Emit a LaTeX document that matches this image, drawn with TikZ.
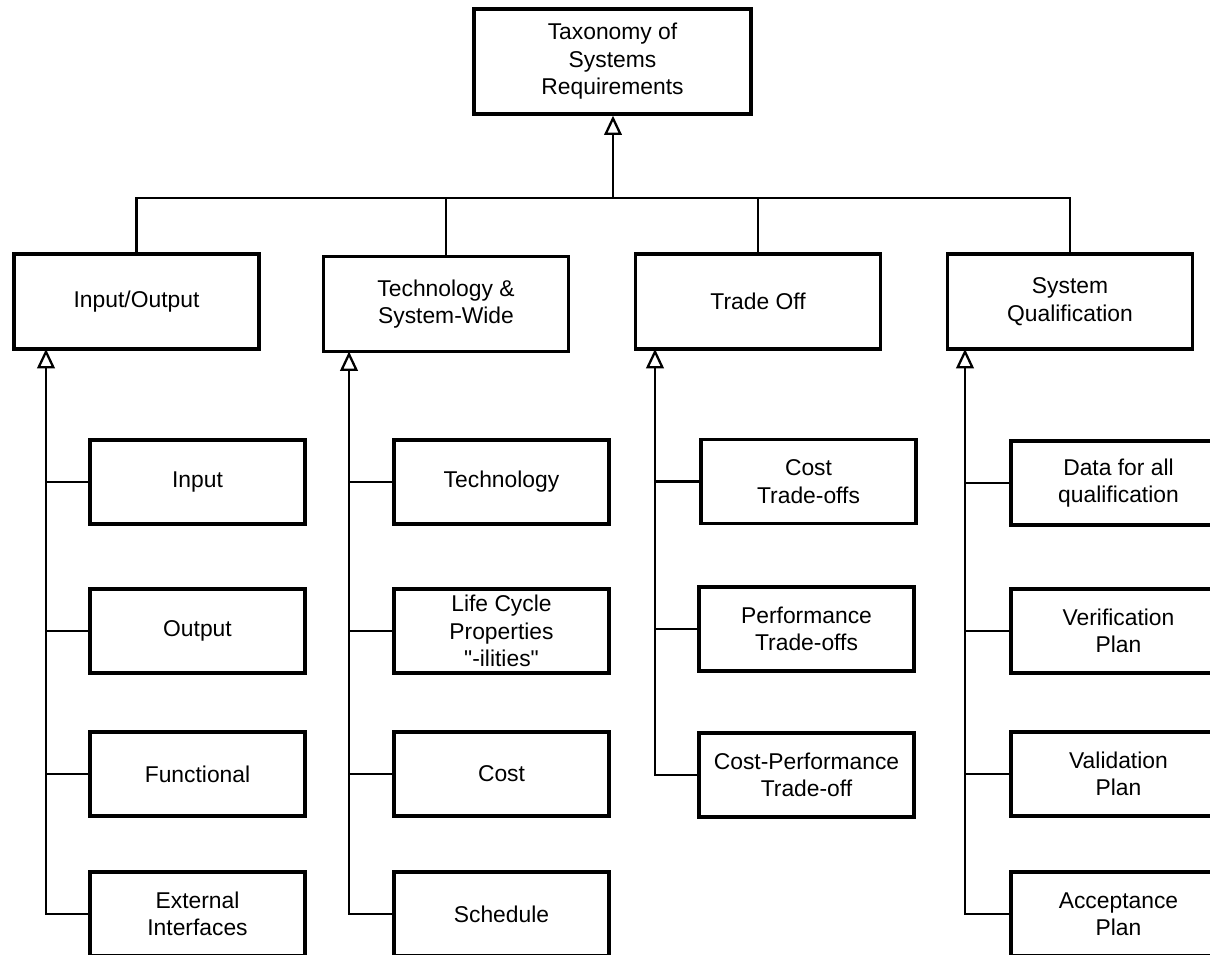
\documentclass[tikz,border=0pt]{standalone}
\usepackage{fontspec}
\setmainfont{Liberation Sans}[Ligatures=TeXOff]
\usetikzlibrary{arrows.meta}

\begin{document}
\begin{tikzpicture}[x=0.02cm, y=-0.02cm,
    box/.style={draw, rectangle, line width=1.9pt, align=center, inner sep=2pt,
        font=\fontsize{13}{15.6}\selectfont},
    topbox/.style={box, minimum width=5.54cm, minimum height=2.1cm},
    groupbox/.style={box, minimum width=4.9cm, minimum height=1.9cm},
    leafbox/.style={box, minimum width=4.3cm, minimum height=1.68cm},
    link/.style={line width=1.3pt},
    uparrow/.style={link, -{Triangle[open, length=11pt, width=10pt, line width=1.3pt]}}]
    \useasboundingbox (0,0) rectangle (1210,955);
    \clip (0,0) rectangle (1210,955);

    \node[topbox] (top) at (612.5,61.5) {Taxonomy of\\Systems\\Requirements};

    \node[groupbox] (io) at (136.5,301.5) {Input/Output};
    \node[groupbox] (tech) at (446,304) {Technology \&\\System-Wide};
    \node[groupbox] (trade) at (758,301.5) {Trade Off};
    \node[groupbox] (qual) at (1070,301.5) {System\\Qualification};

    \node[leafbox] (input) at (197.5,482) {Input};
    \node[leafbox] (output) at (197.5,631) {Output};
    \node[leafbox] (functional) at (197.5,774) {Functional};
    \node[leafbox] (extif) at (197.5,914) {External\\Interfaces};

    \node[leafbox] (techno) at (501.5,482) {Technology};
    \node[leafbox] (lifecycle) at (501.5,631) {Life Cycle\\Properties\\"-ilities"};
    \node[leafbox] (cost) at (501.5,774) {Cost};
    \node[leafbox] (schedule) at (501.5,914) {Schedule};

    \node[leafbox] (costto) at (808.5,481.5) {Cost\\Trade-offs};
    \node[leafbox] (perfto) at (806.5,629) {Performance\\Trade-offs};
    \node[leafbox] (costperf) at (806.5,775) {Cost-Performance\\Trade-off};

    \node[leafbox] (data) at (1118.5,483) {Data for all\\qualification};
    \node[leafbox] (verif) at (1118.5,631) {Verification\\Plan};
    \node[leafbox] (valid) at (1118.5,774) {Validation\\Plan};
    \node[leafbox] (accept) at (1118.5,914) {Acceptance\\Plan};

    % top level bus
    \coordinate (bus) at (613,198);
    \draw[uparrow] (bus) -- (bus |- top.south);
    \draw[link] (io.north) |- (bus) -| (qual.north);
    \draw[link] (tech.north) -- (tech.north |- bus);
    \draw[link] (trade.north) -- (trade.north |- bus);

    % spines under each group
    \coordinate (iotip) at (46,349);
    \coordinate (techtip) at (349,351.5);
    \coordinate (tradetip) at (655,349);
    \coordinate (qualtip) at (965,349);

    \draw[link] (input.west) -- (input.west -| iotip);
    \draw[link] (output.west) -- (output.west -| iotip);
    \draw[link] (functional.west) -- (functional.west -| iotip);
    \draw[uparrow] (extif.west) -| (iotip);

    \draw[link] (techno.west) -- (techno.west -| techtip);
    \draw[link] (lifecycle.west) -- (lifecycle.west -| techtip);
    \draw[link] (cost.west) -- (cost.west -| techtip);
    \draw[uparrow] (schedule.west) -| (techtip);

    \draw[link] (costto.west) -- (costto.west -| tradetip);
    \draw[link] (perfto.west) -- (perfto.west -| tradetip);
    \draw[uparrow] (costperf.west) -| (tradetip);

    \draw[link] (data.west) -- (data.west -| qualtip);
    \draw[link] (verif.west) -- (verif.west -| qualtip);
    \draw[link] (valid.west) -- (valid.west -| qualtip);
    \draw[uparrow] (accept.west) -| (qualtip);
\end{tikzpicture}
\end{document}
